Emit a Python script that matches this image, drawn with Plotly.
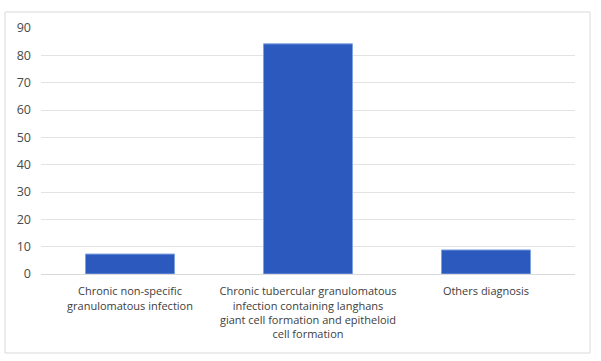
import plotly.graph_objects as go

categories = [
    "Chronic non-specific<br>granulomatous infection",
    "Chronic tubercular granulomatous<br>infection containing langhans<br>giant cell formation and epitheloid<br>cell formation",
    "Others diagnosis",
]
values = [7.3, 84.2, 8.8]
y_ticks = [0, 10, 20, 30, 40, 50, 60, 70, 80, 90]

W, H = 601, 361
ml, mr, mt, mb = 41, 26, 28, 87
pw, ph = W - ml - mr, H - mt - mb

def px_x(p):
    return (p - ml) / pw

def px_y(p):
    return (H - mb - p) / ph

fig = go.Figure(go.Bar(
    x=categories, y=values,
    marker=dict(color="#2C59BE", line=dict(color="#7FA3E0", width=1)),
    width=0.5,
))

fig.update_layout(
    width=W, height=H,
    margin=dict(l=ml, r=mr, t=mt, b=mb, autoexpand=False),
    paper_bgcolor="white", plot_bgcolor="white",
    font=dict(family="Open Sans, Calibri, sans-serif", size=11, color="#404040"),
    showlegend=False,
    bargap=0.5,
    xaxis=dict(showgrid=False, showline=True, linecolor="#d9d9d9", ticks="",
               automargin=False, ticklabelstandoff=7,
               tickfont=dict(size=11, color="#404040")),
    yaxis=dict(range=[0, 90], tickvals=y_ticks, showgrid=True, gridcolor="#e3e3e3",
               zeroline=False, showline=False, ticks="", automargin=False,
               ticklabelstandoff=9,
               tickfont=dict(size=12.5, color="#4a4a4a")),
    shapes=[dict(type="rect", xref="paper", yref="paper",
                 x0=px_x(5), x1=px_x(590), y0=px_y(353), y1=px_y(12),
                 line=dict(color="#d9d9d9", width=1), fillcolor="rgba(0,0,0,0)", layer="below")],
)

fig.write_html("out.html", config={"displayModeBar": False},
               post_script="document.body.style.margin='0';")
